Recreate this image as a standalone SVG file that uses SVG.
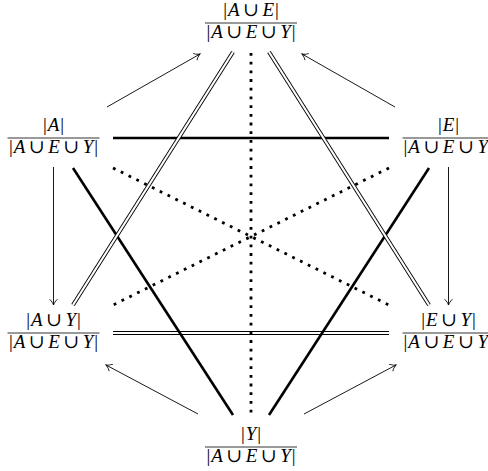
<svg xmlns="http://www.w3.org/2000/svg" width="488" height="471" viewBox="0 0 488 471">
<defs>
<marker id="arr" viewBox="-7 -5 9 10" refX="0" refY="0" markerWidth="9" markerHeight="10" orient="auto" markerUnits="userSpaceOnUse">
<path d="M-5.5,-3.6 C-3.5,-1.6 -1.5,-0.5 0,0 C-1.5,0.5 -3.5,1.6 -5.5,3.6" fill="none" stroke="#000" stroke-width="0.9" stroke-linecap="round"/>
</marker>
<style>
.t{font-family:"Liberation Serif","DejaVu Serif",serif;font-size:19px;text-anchor:middle;fill:#000}
.s{text-anchor:start}
.i{font-style:italic}
.frac{stroke:#000;stroke-width:0.8}
.arrow{stroke:#000;stroke-width:0.9;fill:none;marker-end:url(#arr)}
.thick{stroke:#000;stroke-width:2.6;fill:none}
.dblo{stroke:#000;stroke-width:4;fill:none}
.dbli{stroke:#fff;stroke-width:2.2;fill:none}
.dot{stroke:#000;stroke-width:2.8;stroke-dasharray:2.8 5.9;fill:none}
</style>
</defs>
<rect width="488" height="471" fill="#fff"/>
<g id="connectors">
<line class="arrow" x1="107" y1="107" x2="200" y2="54"/>
<line class="arrow" x1="395" y1="107" x2="302" y2="54"/>
<line class="arrow" x1="53.5" y1="167" x2="53.5" y2="305"/>
<line class="arrow" x1="448.5" y1="167" x2="448.5" y2="305"/>
<line class="arrow" x1="198" y1="414" x2="106" y2="365"/>
<line class="arrow" x1="304" y1="414" x2="396" y2="365"/>
<line class="dblo" x1="113" y1="333" x2="389" y2="333"/>
<line class="dbli" x1="113" y1="333" x2="389" y2="333"/>
<line class="thick" x1="113" y1="138" x2="389" y2="138"/>
<line class="thick" x1="73" y1="168" x2="233" y2="415"/>
<line class="thick" x1="429" y1="168" x2="269" y2="415"/>
<line class="dblo" x1="73" y1="305" x2="233" y2="52"/>
<line class="dbli" x1="73" y1="305" x2="233" y2="52"/>
<line class="dblo" x1="429" y1="305" x2="269" y2="52"/>
<line class="dbli" x1="429" y1="305" x2="269" y2="52"/>
<line class="dot" x1="251" y1="53" x2="251" y2="415"/>
<line class="dot" x1="113" y1="168" x2="389" y2="305"/>
<line class="dot" x1="389" y1="168" x2="113" y2="305"/>
</g>
<g id="n-AE" transform="translate(251,23)">
<text class="t" y="-7.5">|<tspan class="i" dx="1">A</tspan><tspan dx="3.5">∪</tspan><tspan class="i" dx="3.5">E</tspan><tspan dx="1">|</tspan></text>
<line class="frac" x1="-46" y1="0" x2="46" y2="0"/>
<text class="t" y="14.5">|<tspan class="i" dx="1">A</tspan><tspan dx="3.5">∪</tspan><tspan class="i" dx="3.5">E</tspan><tspan dx="3.5">∪</tspan><tspan class="i" dx="3.5">Y</tspan><tspan dx="1">|</tspan></text>
</g>
<g id="n-A" transform="translate(53.5,138)">
<text class="t" y="-7.5">|<tspan class="i" dx="1">A</tspan><tspan dx="1">|</tspan></text>
<line class="frac" x1="-46" y1="0" x2="46" y2="0"/>
<text class="t" y="14.5">|<tspan class="i" dx="1">A</tspan><tspan dx="3.5">∪</tspan><tspan class="i" dx="3.5">E</tspan><tspan dx="3.5">∪</tspan><tspan class="i" dx="3.5">Y</tspan><tspan dx="1">|</tspan></text>
</g>
<g id="n-E" transform="translate(448.5,138)">
<text class="t" y="-7.5">|<tspan class="i" dx="1">E</tspan><tspan dx="1">|</tspan></text>
<line class="frac" x1="-46" y1="0" x2="46" y2="0"/>
<text class="t s" x="-45" y="14.5">|<tspan class="i" dx="1">A</tspan><tspan dx="3.5">∪</tspan><tspan class="i" dx="3.5">E</tspan><tspan dx="3.5">∪</tspan><tspan class="i" dx="3.5">Y</tspan></text>
</g>
<g id="n-AY" transform="translate(53.5,333)">
<text class="t" y="-7.5">|<tspan class="i" dx="1">A</tspan><tspan dx="3.5">∪</tspan><tspan class="i" dx="3.5">Y</tspan><tspan dx="1">|</tspan></text>
<line class="frac" x1="-46" y1="0" x2="46" y2="0"/>
<text class="t" y="14.5">|<tspan class="i" dx="1">A</tspan><tspan dx="3.5">∪</tspan><tspan class="i" dx="3.5">E</tspan><tspan dx="3.5">∪</tspan><tspan class="i" dx="3.5">Y</tspan><tspan dx="1">|</tspan></text>
</g>
<g id="n-EY" transform="translate(448.5,333)">
<text class="t" y="-7.5">|<tspan class="i" dx="1">E</tspan><tspan dx="3.5">∪</tspan><tspan class="i" dx="3.5">Y</tspan><tspan dx="1">|</tspan></text>
<line class="frac" x1="-46" y1="0" x2="46" y2="0"/>
<text class="t s" x="-45" y="14.5">|<tspan class="i" dx="1">A</tspan><tspan dx="3.5">∪</tspan><tspan class="i" dx="3.5">E</tspan><tspan dx="3.5">∪</tspan><tspan class="i" dx="3.5">Y</tspan></text>
</g>
<g id="n-Y" transform="translate(251,447)">
<text class="t" y="-7.5">|<tspan class="i" dx="1">Y</tspan><tspan dx="1">|</tspan></text>
<line class="frac" x1="-46" y1="0" x2="46" y2="0"/>
<text class="t" y="14.5">|<tspan class="i" dx="1">A</tspan><tspan dx="3.5">∪</tspan><tspan class="i" dx="3.5">E</tspan><tspan dx="3.5">∪</tspan><tspan class="i" dx="3.5">Y</tspan><tspan dx="1">|</tspan></text>
</g>
</svg>
